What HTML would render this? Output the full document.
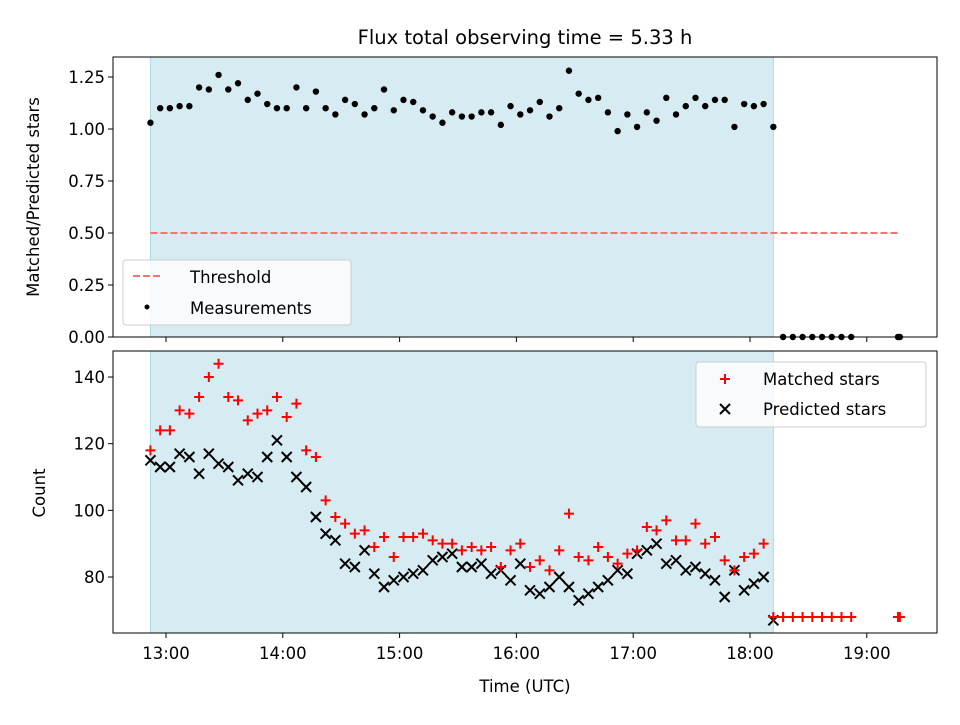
<!DOCTYPE html>
<html><head><meta charset="utf-8"><style>
body{margin:0;background:#fff}
svg{font-family:"DejaVu Sans","Liberation Sans",sans-serif}
</style></head><body>
<svg id="c" width="960" height="720" xmlns="http://www.w3.org/2000/svg"></svg>
<script>
// data
const times = ["12:52","12:57","13:02","13:07","13:12","13:17","13:22","13:27","13:32","13:37","13:42","13:47","13:52","13:57","14:02","14:07","14:12","14:17","14:22","14:27","14:32","14:37","14:42","14:47","14:52","14:57","15:02","15:07","15:12","15:17","15:22","15:27","15:32","15:37","15:42","15:47","15:52","15:57","16:02","16:07","16:12","16:17","16:22","16:27","16:32","16:37","16:42","16:47","16:52","16:57","17:02","17:07","17:12","17:17","17:22","17:27","17:32","17:37","17:42","17:47","17:52","17:57","18:02","18:07","18:12"];
const ratio = [1.03,1.10,1.10,1.11,1.11,1.20,1.19,1.26,1.19,1.22,1.14,1.17,1.12,1.10,1.10,1.20,1.10,1.18,1.10,1.07,1.14,1.12,1.07,1.10,1.19,1.09,1.14,1.13,1.09,1.06,1.03,1.08,1.06,1.06,1.08,1.08,1.02,1.11,1.07,1.09,1.13,1.06,1.10,1.28,1.17,1.14,1.15,1.08,0.99,1.07,1.01,1.08,1.04,1.15,1.07,1.11,1.15,1.11,1.14,1.14,1.01,1.12,1.11,1.12,1.01];
const matched = [118,124,124,130,129,134,140,144,134,133,127,129,130,134,128,132,118,116,103,98,96,93,94,89,92,86,92,92,93,91,90,90,88,89,88,89,83,88,90,83,85,82,88,99,86,85,89,86,84,87,88,95,94,97,91,91,96,90,92,85,82,86,87,90,68];
const predicted = [115,113,113,117,116,111,117,114,113,109,111,110,116,121,116,110,107,98,93,91,84,83,88,81,77,79,80,81,82,85,86,87,83,83,84,81,82,79,84,76,75,77,80,77,73,75,77,79,82,81,87,88,90,84,85,82,83,81,79,74,82,76,78,80,67];
const offTimes = ["18:17","18:22","18:27","18:32","18:37","18:42","18:47","18:52","19:16","19:17"];
const offRatio = [0,0,0,0,0,0,0,0,0,0];
const offMatched = [68,68,68,68,68,68,68,68,68,68];
const xTicks = ["13:00","14:00","15:00","16:00","17:00","18:00","19:00"];
const topTicks = [0,0.25,0.5,0.75,1.0,1.25];
const botTicks = [80,100,120,140];
const shade = ["12:52","18:12"];
const threshold = 0.5, thrRange = ["12:52","19:17"];

const svg = document.getElementById('c');
const NS = "http://www.w3.org/2000/svg";
function mk(t, a, p){const e=document.createElementNS(NS,t);for(const k in a)e.setAttribute(k,a[k]);(p||svg).appendChild(e);return e;}
function hrs(s){const [h,m]=s.split(':').map(Number);return h+m/60;}
const X0=113,X1=937;
function x(s){return 166+(hrs(s)-13)*116.8;}
function yT(v){return 337-v*208;}
function yB(v){return 577-(v-80)*3.333;}

[[57,337],[351,633]].forEach((r,i)=>{
  const e=mk('rect',{x:x(shade[0]),y:r[0],width:x(shade[1])-x(shade[0]),height:r[1]-r[0],fill:'#add8e6','fill-opacity':0.5,stroke:'#add8e6'});
  
  
});
let th=mk('line',{x1:x(thrRange[0]),x2:x(thrRange[1]),y1:yT(threshold),y2:yT(threshold),stroke:'#ff7070','stroke-width':2,'stroke-dasharray':'7,3'});


const gT=mk('g',{});


times.forEach((t,i)=>mk('circle',{cx:x(t),cy:yT(ratio[i]),r:3.2,fill:'#000'},gT));
offTimes.forEach((t,i)=>mk('circle',{cx:x(t),cy:yT(offRatio[i]),r:3.2,fill:'#000'},gT));
const gM=mk('g',{stroke:'#f00','stroke-width':2});


function plus(cx,cy,g){mk('path',{d:`M${cx-5} ${cy}H${cx+5}M${cx} ${cy-5}V${cy+5}`},g);}
function cross(cx,cy,g){mk('path',{d:`M${cx-5} ${cy-5}L${cx+5} ${cy+5}M${cx-5} ${cy+5}L${cx+5} ${cy-5}`},g);}
const gP=mk('g',{stroke:'#000','stroke-width':2});


times.forEach((t,i)=>cross(x(t),yB(predicted[i]),gP));
times.forEach((t,i)=>plus(x(t),yB(matched[i]),gM));
offTimes.forEach((t,i)=>plus(x(t),yB(offMatched[i]),gM));
svg.appendChild(gM);

[[57,337,'top-axes'],[351,633,'bottom-axes']].forEach(r=>{
  const e=mk('rect',{x:X0,y:r[0],width:X1-X0,height:r[1]-r[0],fill:'none',stroke:'#000','stroke-width':1});
  
  
});
xTicks.forEach(t=>{
  const px=x(t);
  mk('line',{x1:px,x2:px,y1:337,y2:342,stroke:'#000'});
  mk('line',{x1:px,x2:px,y1:633,y2:638,stroke:'#000'});
  const e=mk('text',{x:px,y:659,'text-anchor':'middle','font-size':16.5});
  e.textContent=t;
  
  
});
topTicks.forEach(v=>{
  const py=yT(v);
  mk('line',{x1:X0-5,x2:X0,y1:py,y2:py,stroke:'#000'});
  const e=mk('text',{x:X0-8,y:py+6,'text-anchor':'end','font-size':16.5});
  e.textContent=v.toFixed(2);
  
  
});
botTicks.forEach(v=>{
  const py=yB(v);
  mk('line',{x1:X0-5,x2:X0,y1:py,y2:py,stroke:'#000'});
  const e=mk('text',{x:X0-8,y:py+6,'text-anchor':'end','font-size':16.5});
  e.textContent=v;
  
  
});
function txt(s,a,name){const e=mk('text',a);e.textContent=s;return e;}
txt('Flux total observing time = 5.33 h',{x:525,y:44,'text-anchor':'middle','font-size':19.5},'chart-title');
txt('Time (UTC)',{x:525,y:692,'text-anchor':'middle','font-size':16.5},'x-axis-title');
txt('Matched/Predicted stars',{x:0,y:0,'text-anchor':'middle','font-size':16.5,transform:'translate(39,197) rotate(-90)'},'top-y-axis-title');
txt('Count',{x:0,y:0,'text-anchor':'middle','font-size':16.5,transform:'translate(45,493) rotate(-90)'},'bottom-y-axis-title');

let l1=mk('g',{});


mk('rect',{x:123,y:260,width:228,height:65,rx:3,fill:'#fff','fill-opacity':0.8,stroke:'#ccc'},l1);
mk('line',{x1:133,x2:161,y1:276,y2:276,stroke:'#ff7070','stroke-width':2,'stroke-dasharray':'7,3'},l1);
mk('circle',{cx:147,cy:307,r:2.5,fill:'#000'},l1);
let t=mk('text',{x:190,y:283,'font-size':16.5},l1);t.textContent='Threshold';
t=mk('text',{x:190,y:314,'font-size':16.5},l1);t.textContent='Measurements';
let l2=mk('g',{});


mk('rect',{x:696,y:362,width:230,height:65,rx:3,fill:'#fff','fill-opacity':0.8,stroke:'#ccc'},l2);
const g2=mk('g',{stroke:'#f00','stroke-width':2},l2);plus(725,379,g2);
const g3=mk('g',{stroke:'#000','stroke-width':2},l2);cross(725,409,g3);
t=mk('text',{x:763,y:385,'font-size':16.5},l2);t.textContent='Matched stars';
t=mk('text',{x:763,y:415,'font-size':16.5},l2);t.textContent='Predicted stars';
</script>
</body></html>
